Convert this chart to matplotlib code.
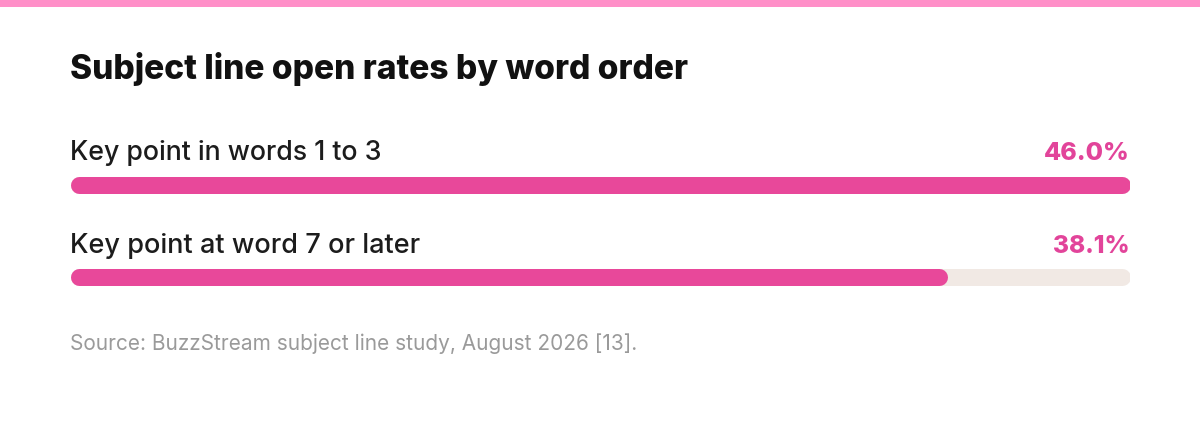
import matplotlib
matplotlib.use("Agg")
import matplotlib.pyplot as plt
from matplotlib.patches import Rectangle

# ---- data ----
title = "Subject line open rates by word order"
categories = ["Key point in words 1 to 3", "Key point at word 7 or later"]
values = [46.0, 38.1]
value_labels = ["46.0%", "38.1%"]
source = "Source: BuzzStream subject line study, August 2026 [13]."
max_value = 46.0

# ---- style ----
W, H = 1200, 425
PINK = "#E8489A"
PINK_TEXT = "#E2449A"
TRACK = "#F1E9E4"
BAND = "#FF8FC8"
FONT = "Inter"

fig = plt.figure(figsize=(W / 100, H / 100), dpi=100)
fig.patch.set_facecolor("white")

left_px, right_px = 70, 1130
ax = fig.add_axes([left_px / W, 0, (right_px - left_px) / W, 1])
ax.set_xlim(0, max_value)
ax.set_ylim(H, 0)
ax.axis("off")

# top band
fig.add_artist(Rectangle((0, 1 - 7 / H), 1, 7 / H, transform=fig.transFigure,
                         facecolor=BAND, edgecolor="none"))

renderer = fig.canvas.get_renderer()


def fitted_text(x_px, y_top_px, s, target_w, size0, ha="left", **kw):
    t = fig.text(x_px / W, 1 - y_top_px / H, s, ha=ha, va="baseline",
                 fontsize=size0, family=[FONT, "DejaVu Sans"], **kw)
    w = t.get_window_extent(renderer).width
    t.set_fontsize(size0 * target_w / w)
    return t


fitted_text(70, 79, title, 620, 22, fontweight="heavy", color="#111111")

bar_h_px = 17
lw_pt = bar_h_px * 72 / 100
inset = (bar_h_px / 2) * max_value / (right_px - left_px)
first_bar_y = 184.5
row_gap = 92.5

label_widths = [311, 349]
value_widths = [86, 77]
for i, (cat, v, vl) in enumerate(zip(categories, values, value_labels)):
    yc = first_bar_y + i * row_gap
    ax.plot([inset, max_value - inset], [yc, yc], color=TRACK, lw=lw_pt,
            solid_capstyle="round")
    ax.plot([inset, v - inset], [yc, yc], color=PINK, lw=lw_pt,
            solid_capstyle="round")
    base = yc - 24
    fitted_text(70, base, cat, label_widths[i], 16, fontweight="medium",
                color="#1c1c1c")
    fitted_text(1130, base, vl, value_widths[i], 16, ha="right",
                fontweight="heavy", color=PINK_TEXT)

fitted_text(70, 350, source, 566, 12, color="#9a9a9a")

fig.savefig("out.png", dpi=100, facecolor="white")
